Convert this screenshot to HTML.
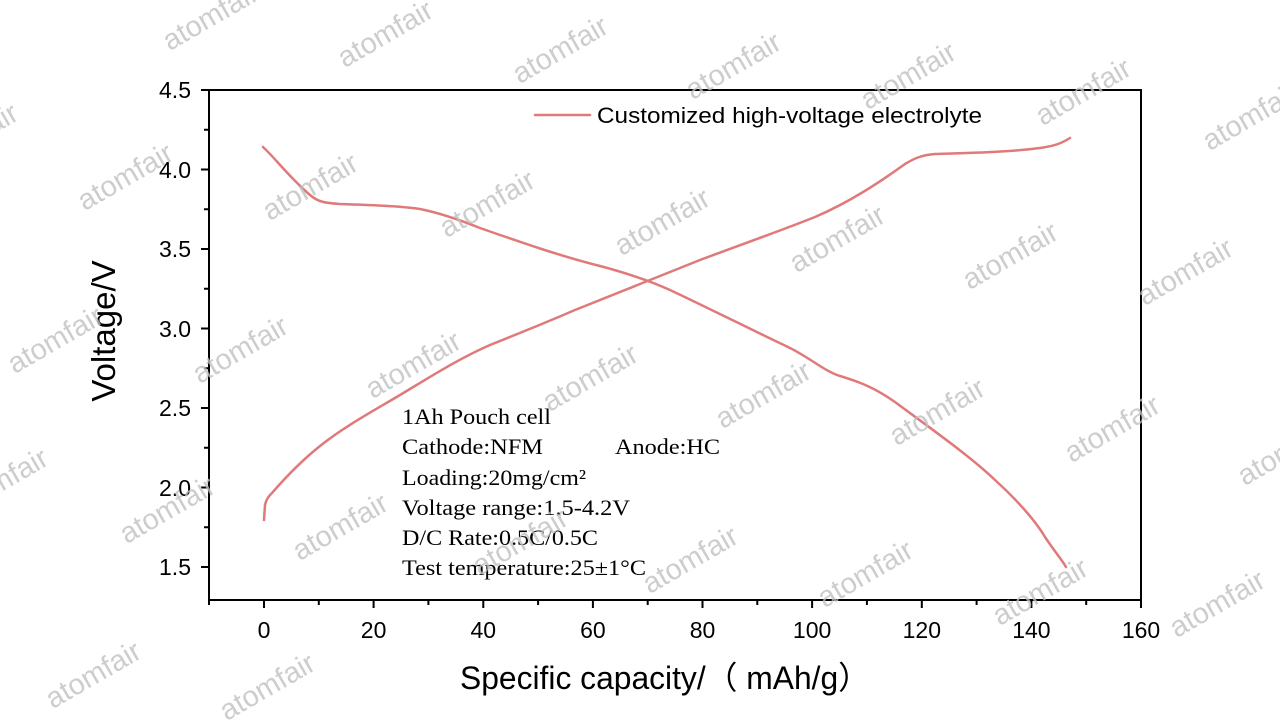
<!DOCTYPE html>
<html><head><meta charset="utf-8"><style>
html,body{margin:0;padding:0;background:#fff;width:1280px;height:720px;overflow:hidden;}
svg{display:block;}
</style></head><body>
<svg width="1280" height="720" viewBox="0 0 1280 720" xmlns="http://www.w3.org/2000/svg" font-family="Liberation Sans, Arial, sans-serif" style="overflow:hidden">
<rect width="1280" height="720" fill="#fff"/>
<rect x="209" y="90" width="932" height="510" fill="none" stroke="#000" stroke-width="2"/>
<g stroke="#000" stroke-width="2">
<line x1="201" y1="90" x2="209" y2="90"/><line x1="201" y1="169.5" x2="209" y2="169.5"/>
<line x1="201" y1="249" x2="209" y2="249"/><line x1="201" y1="328.5" x2="209" y2="328.5"/>
<line x1="201" y1="408" x2="209" y2="408"/><line x1="201" y1="487.5" x2="209" y2="487.5"/>
<line x1="201" y1="567" x2="209" y2="567"/>
<line x1="204" y1="129.75" x2="209" y2="129.75"/><line x1="204" y1="209.25" x2="209" y2="209.25"/>
<line x1="204" y1="288.75" x2="209" y2="288.75"/><line x1="204" y1="368.25" x2="209" y2="368.25"/>
<line x1="204" y1="447.75" x2="209" y2="447.75"/><line x1="204" y1="527.25" x2="209" y2="527.25"/>
<line x1="264" y1="600" x2="264" y2="608"/><line x1="373.6" y1="600" x2="373.6" y2="608"/>
<line x1="483.3" y1="600" x2="483.3" y2="608"/><line x1="592.9" y1="600" x2="592.9" y2="608"/>
<line x1="702.5" y1="600" x2="702.5" y2="608"/><line x1="812.1" y1="600" x2="812.1" y2="608"/>
<line x1="921.8" y1="600" x2="921.8" y2="608"/><line x1="1031.4" y1="600" x2="1031.4" y2="608"/>
<line x1="1141" y1="600" x2="1141" y2="608"/>
<line x1="209" y1="600" x2="209" y2="605"/><line x1="318.8" y1="600" x2="318.8" y2="605"/>
<line x1="428.4" y1="600" x2="428.4" y2="605"/><line x1="538.1" y1="600" x2="538.1" y2="605"/>
<line x1="647.7" y1="600" x2="647.7" y2="605"/><line x1="757.3" y1="600" x2="757.3" y2="605"/>
<line x1="866.9" y1="600" x2="866.9" y2="605"/><line x1="976.6" y1="600" x2="976.6" y2="605"/>
<line x1="1086.2" y1="600" x2="1086.2" y2="605"/>
</g>
<g font-size="23" fill="#000" text-anchor="end">
<text x="191" y="98">4.5</text><text x="191" y="178">4.0</text><text x="191" y="257">3.5</text>
<text x="191" y="337">3.0</text><text x="191" y="416">2.5</text><text x="191" y="496">2.0</text>
<text x="191" y="575">1.5</text>
</g>
<g font-size="23" fill="#000" text-anchor="middle">
<text x="264" y="638">0</text><text x="373.6" y="638">20</text><text x="483.3" y="638">40</text>
<text x="592.9" y="638">60</text><text x="702.5" y="638">80</text><text x="812.1" y="638">100</text>
<text x="921.8" y="638">120</text><text x="1031.4" y="638">140</text><text x="1141" y="638">160</text>
</g>
<text x="460" y="689" font-size="32" fill="#000" textLength="410" lengthAdjust="spacingAndGlyphs">Specific capacity/（ mAh/g）</text>
<text transform="translate(115,331) rotate(-90)" font-size="33" text-anchor="middle" fill="#000">Voltage/V</text>
<g fill="none" stroke="#e07a7a" stroke-width="2.5" stroke-linejoin="round" stroke-linecap="round">
<path d="M264,520 L265,505 C266,500 268,497 272,493 C285,478 300,462 320,446 C345,426 375,410 400,395 C430,377 460,358 490,345 C520,333 545,323 575,310 C615,294 660,276 700,260 C740,245 780,231 815,217 C850,202 880,182 905,164 C915,158 922,155 935,154 C970,153 1010,152 1040,148 C1055,146 1062,143 1070,138"/>
<path d="M263,147 C275,158 290,178 310,195 C318,202 325,203 340,204 C370,205 400,206 420,209 C440,213 460,220 480,228 C520,242 560,256 600,266 C630,274 650,281 670,290 C700,304 750,329 790,348 C810,358 826,372 840,376 C860,382 875,388 895,402 C930,428 970,456 995,480 C1015,498 1035,520 1045,537 C1055,552 1062,560 1066,567"/>
<line x1="535" y1="115" x2="590" y2="115"/>
</g>
<text x="597" y="123" font-size="22" fill="#000" textLength="385" lengthAdjust="spacingAndGlyphs">Customized high-voltage electrolyte</text>
<g font-family="Liberation Serif, Times New Roman, serif" font-size="22" fill="#000" lengthAdjust="spacingAndGlyphs">
<text x="402" y="424" textLength="149" lengthAdjust="spacingAndGlyphs">1Ah Pouch cell</text>
<text x="402" y="454" textLength="141" lengthAdjust="spacingAndGlyphs">Cathode:NFM</text><text x="615" y="454" textLength="105" lengthAdjust="spacingAndGlyphs">Anode:HC</text>
<text x="402" y="485" textLength="184" lengthAdjust="spacingAndGlyphs">Loading:20mg/cm²</text>
<text x="402" y="515" textLength="228" lengthAdjust="spacingAndGlyphs">Voltage range:1.5-4.2V</text>
<text x="402" y="545" textLength="196" lengthAdjust="spacingAndGlyphs">D/C Rate:0.5C/0.5C</text>
<text x="402" y="575" textLength="244" lengthAdjust="spacingAndGlyphs">Test temperature:25±1°C</text>
</g>
<g font-size="29" fill="#c0c0c0" fill-opacity="0.8" text-anchor="middle">
<text transform="translate(215,25) rotate(-30)">atomfair</text>
<text transform="translate(390,42) rotate(-30)">atomfair</text>
<text transform="translate(565,58) rotate(-30)">atomfair</text>
<text transform="translate(738,74) rotate(-30)">atomfair</text>
<text transform="translate(913,84) rotate(-30)">atomfair</text>
<text transform="translate(1088,100) rotate(-30)">atomfair</text>
<text transform="translate(1255,125) rotate(-30)">atomfair</text>
<text transform="translate(-25,145) rotate(-30)">atomfair</text>
<text transform="translate(130,185) rotate(-30)">atomfair</text>
<text transform="translate(315,195) rotate(-30)">atomfair</text>
<text transform="translate(492,212) rotate(-30)">atomfair</text>
<text transform="translate(667,230) rotate(-30)">atomfair</text>
<text transform="translate(842,247) rotate(-30)">atomfair</text>
<text transform="translate(1015,264) rotate(-30)">atomfair</text>
<text transform="translate(1190,280) rotate(-30)">atomfair</text>
<text transform="translate(60,348) rotate(-30)">atomfair</text>
<text transform="translate(245,358) rotate(-30)">atomfair</text>
<text transform="translate(418,373) rotate(-30)">atomfair</text>
<text transform="translate(595,386) rotate(-30)">atomfair</text>
<text transform="translate(768,403) rotate(-30)">atomfair</text>
<text transform="translate(942,420) rotate(-30)">atomfair</text>
<text transform="translate(1117,437) rotate(-30)">atomfair</text>
<text transform="translate(1290,460) rotate(-30)">atomfair</text>
<text transform="translate(5,490) rotate(-30)">atomfair</text>
<text transform="translate(172,518) rotate(-30)">atomfair</text>
<text transform="translate(345,535) rotate(-30)">atomfair</text>
<text transform="translate(525,550) rotate(-30)">atomfair</text>
<text transform="translate(695,568) rotate(-30)">atomfair</text>
<text transform="translate(870,582) rotate(-30)">atomfair</text>
<text transform="translate(1045,600) rotate(-30)">atomfair</text>
<text transform="translate(1222,612) rotate(-30)">atomfair</text>
<text transform="translate(98,683) rotate(-30)">atomfair</text>
<text transform="translate(272,695) rotate(-30)">atomfair</text>
</g>
</svg>
</body></html>
